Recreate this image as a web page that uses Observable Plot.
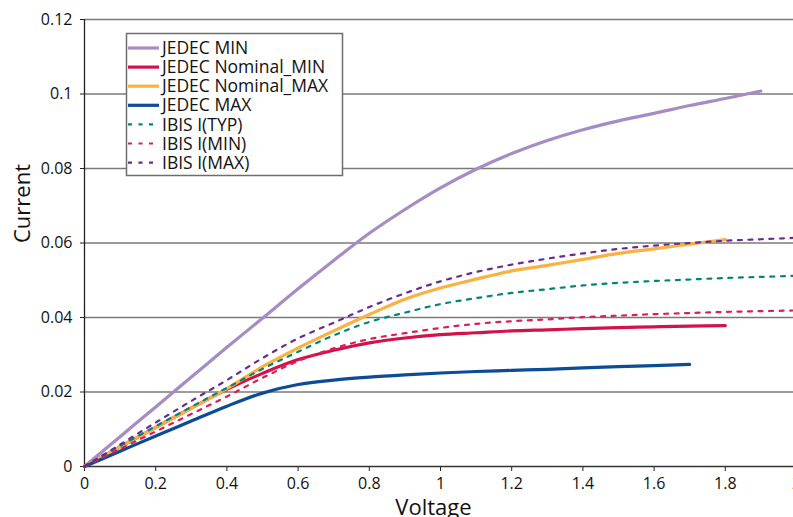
<!DOCTYPE html>
<html>
<head>
<meta charset="utf-8">
<script src="https://cdn.jsdelivr.net/npm/d3@7"></script>
<script src="https://cdn.jsdelivr.net/npm/@observablehq/plot@0.6"></script>
<style>
  html, body { margin: 0; padding: 0; background: white; }
  #chart { position: relative; width: 793px; height: 517px; overflow: hidden; }
  #chart svg { overflow: visible; max-width: none; }
</style>
</head>
<body>
<div id="chart"></div>
<script>
// Voltage sample points (V)
const voltage = [0, 0.1, 0.2, 0.3, 0.4, 0.5, 0.6, 0.7, 0.8, 0.9, 1.0, 1.1, 1.2, 1.3, 1.4, 1.5, 1.6, 1.7, 1.8, 1.9, 2.0];

// Currents (A) for each series
const jedecMin     = [0, 0.0080, 0.0160, 0.0240, 0.0320, 0.0398, 0.0477, 0.0553, 0.0626, 0.0690, 0.0748, 0.0798, 0.0840, 0.0875, 0.0904, 0.0928, 0.0948, 0.0969, 0.0988, 0.1008];
const jedecNomMin  = [0, 0.0053, 0.0105, 0.0157, 0.0207, 0.0250, 0.0287, 0.0312, 0.0332, 0.0345, 0.0354, 0.0359, 0.0364, 0.0367, 0.0370, 0.0373, 0.0375, 0.0377, 0.0378];
const jedecNomMax  = [0, 0.0053, 0.0105, 0.0157, 0.0209, 0.0268, 0.0318, 0.0364, 0.0408, 0.0449, 0.0479, 0.0503, 0.0525, 0.0540, 0.0556, 0.0572, 0.0584, 0.0597, 0.0609];
const jedecMax     = [0, 0.0041, 0.0082, 0.0122, 0.0162, 0.0197, 0.0220, 0.0232, 0.0240, 0.0246, 0.0251, 0.0255, 0.0258, 0.0261, 0.0265, 0.0268, 0.0271, 0.0274];
const ibisTyp      = [0, 0.0055, 0.0108, 0.0160, 0.0211, 0.0262, 0.0308, 0.0352, 0.0388, 0.0413, 0.0436, 0.0452, 0.0466, 0.0476, 0.0486, 0.0493, 0.0498, 0.0502, 0.0506, 0.0509, 0.0512];
const ibisMin      = [0, 0.0047, 0.0094, 0.0141, 0.0188, 0.0238, 0.0283, 0.0317, 0.0342, 0.0358, 0.0372, 0.0383, 0.0390, 0.0395, 0.0401, 0.0405, 0.0409, 0.0412, 0.0415, 0.0417, 0.0419];
const ibisMax      = [0, 0.0059, 0.0118, 0.0176, 0.0232, 0.0291, 0.0344, 0.0386, 0.0428, 0.0465, 0.0497, 0.0522, 0.0542, 0.0558, 0.0572, 0.0584, 0.0593, 0.0600, 0.0606, 0.0610, 0.0614];

const seriesNames = ["JEDEC MIN", "JEDEC Nominal_MIN", "JEDEC Nominal_MAX", "JEDEC MAX", "IBIS I(TYP)", "IBIS I(MIN)", "IBIS I(MAX)"];
const seriesValues = [jedecMin, jedecNomMin, jedecNomMax, jedecMax, ibisTyp, ibisMin, ibisMax];
const seriesColors = ["#a68bc4", "#d3124a", "#fbb040", "#0b4c94", "#00857a", "#d81f58", "#6a2b90"];
const seriesDashed = [false, false, false, false, true, true, true];

const xTicks = [0, 0.2, 0.4, 0.6, 0.8, 1, 1.2, 1.4, 1.6, 1.8, 2];
const yTicks = [0, 0.02, 0.04, 0.06, 0.08, 0.1, 0.12];

const fmt = d => String(+d.toFixed(2));

const series = seriesNames.map((name, s) => ({
  name,
  color: seriesColors[s],
  dashed: seriesDashed[s],
  rows: seriesValues[s].map((c, k) => ({v: voltage[k], i: c, series: name}))
}));

const lineMarks = series.map(s => Plot.line(s.rows, {
  x: "v", y: "i",
  stroke: s.color,
  strokeWidth: s.dashed ? 2.2 : 3.2,
  strokeDasharray: s.dashed ? "4,6.5" : null,
  curve: "catmull-rom"
}));

const chart = Plot.plot({
  width: 793,
  height: 517,
  marginLeft: 84,
  marginRight: -3,
  marginTop: 19,
  marginBottom: 51,
  style: {fontFamily: "'Open Sans', sans-serif", fontSize: "16px", color: "#111", background: "white"},
  x: {domain: [0, 2]},
  y: {domain: [0, 0.12]},
  marks: [
    Plot.ruleY(yTicks.slice(1), {stroke: "#7a7a7a", strokeWidth: 1.4}),
    Plot.axisY({ticks: yTicks, tickFormat: fmt, tickSize: 4, tickPadding: 8, label: null, stroke: "#222"}),
    Plot.axisX({ticks: xTicks, tickFormat: fmt, tickSize: 5, tickPadding: 6, label: null, stroke: "#222"}),
    Plot.ruleX([0], {stroke: "#222", strokeWidth: 1.3}),
    Plot.ruleY([0], {stroke: "#333", strokeWidth: 1.3}),
    ...lineMarks,
    Plot.text(["Current"], {frameAnchor: "left", rotate: -90, dx: -62, fontSize: 22, fill: "#111"}),
    Plot.text(["Voltage"], {frameAnchor: "bottom", dx: -7, dy: 41, fontSize: 22, fill: "#111", lineAnchor: "middle"})
  ]
});

document.getElementById("chart").appendChild(chart);

// Legend box drawn inside the plot's SVG
const svg = d3.select(chart);
const lg = svg.append("g").attr("class", "legend").attr("text-anchor", "start");
lg.append("rect")
  .attr("x", 126.5).attr("y", 33.5).attr("width", 216).attr("height", 142)
  .attr("fill", "white").attr("stroke", "#6e6e6e").attr("stroke-width", 1.5);
series.forEach((s, k) => {
  const y = 48 + k * 19.1;
  lg.append("line")
    .attr("x1", 128).attr("x2", 159).attr("y1", y).attr("y2", y)
    .attr("stroke", s.color)
    .attr("stroke-width", s.dashed ? 2.2 : 3.2)
    .attr("stroke-dasharray", s.dashed ? "4,6.5" : null);
  lg.append("text")
    .attr("x", 162).attr("y", y).attr("dy", "0.35em")
    .attr("text-anchor", "start")
    .attr("font-family", "'Open Sans', sans-serif")
    .attr("font-size", 17.5)
    .attr("fill", "#111")
    .text(s.name);
});
</script>
</body>
</html>
